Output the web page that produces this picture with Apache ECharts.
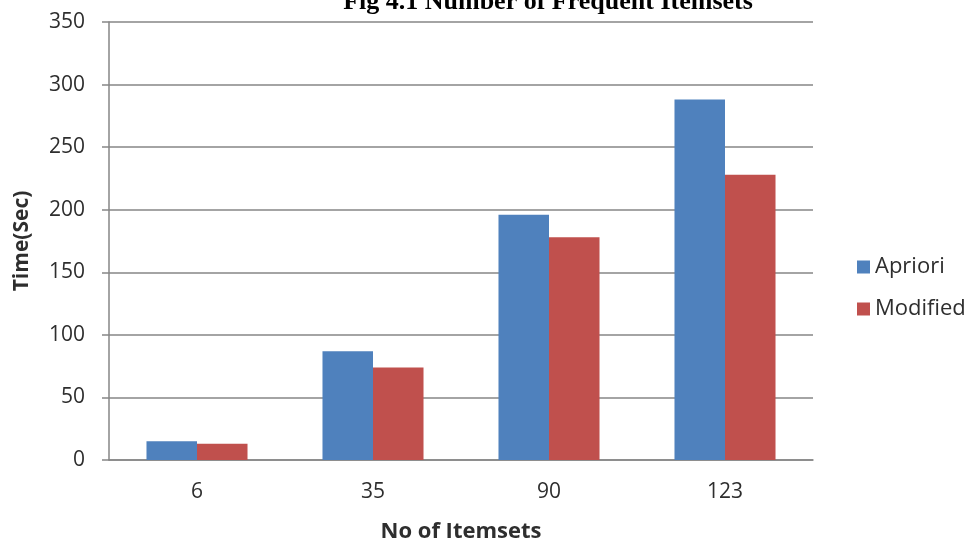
<!DOCTYPE html>
<html>
<head>
<meta charset="utf-8">
<script src="https://cdn.jsdelivr.net/npm/echarts@6/dist/echarts.min.js"></script>
<style>
html,body{margin:0;padding:0;background:#fff;}
#chart{width:972px;height:546px;}
</style>
</head>
<body>
<div id="chart"></div>
<script>
const titleText = 'Fig 4.1 Number of Frequent Itemsets';
const categories = ['6', '35', '90', '123'];
const apriori = [15, 87, 196, 288];
const modified = [13, 74, 178, 228];
const seriesNames = ['Apriori', 'Modified'];
const yAxisName = 'Time(Sec)';
const xAxisName = 'No of Itemsets';

const chart = echarts.init(document.getElementById('chart'));
const font = '"Open Sans", sans-serif';
const textColor = '#2e2e2e';
chart.setOption({
  animation: false,
  backgroundColor: '#ffffff',
  title: {
    text: titleText,
    left: 543,
    textAlign: 'center',
    top: -16,
    textStyle: { fontFamily: '"Liberation Serif", "Times New Roman", serif', fontWeight: 'bold', fontSize: 26, color: '#000' }
  },
  legend: {
    orient: 'vertical',
    left: 852,
    top: 251,
    itemWidth: 13,
    itemHeight: 13,
    itemGap: 20,
    icon: 'rect',
    data: seriesNames,
    textStyle: { fontFamily: font, fontSize: 22, color: textColor }
  },
  grid: { left: 109, right: 159, top: 22, bottom: 86, outerBoundsMode: 'none', containLabel: false },
  xAxis: {
    type: 'category',
    data: categories,
    name: xAxisName,
    nameLocation: 'middle',
    nameGap: 61,
    nameTextStyle: { fontFamily: font, fontWeight: 'bold', fontSize: 22, color: textColor },
    axisLine: { lineStyle: { color: '#868686', width: 1.5 } },
    axisTick: { length: 8, lineStyle: { color: '#868686', width: 1.5 } },
    axisLabel: { margin: 22, fontFamily: font, fontSize: 21, color: textColor }
  },
  yAxis: {
    type: 'value',
    min: 0, max: 350, interval: 50,
    name: yAxisName,
    nameLocation: 'middle',
    nameGap: 76,
    nameTextStyle: { fontFamily: font, fontWeight: 'bold', fontSize: 21, color: textColor },
    axisLine: { show: true, lineStyle: { color: '#868686', width: 1.5 } },
    axisTick: { show: true, length: 7, lineStyle: { color: '#868686', width: 1.5 } },
    axisLabel: { margin: 24, fontFamily: font, fontSize: 21, color: textColor },
    splitLine: { lineStyle: { color: '#868686', width: 1.5 } }
  },
  series: [
    { name: seriesNames[0], type: 'bar', data: apriori, barGap: '0%', barCategoryGap: '42.6%', itemStyle: { color: '#4F81BD' } },
    { name: seriesNames[1], type: 'bar', data: modified, itemStyle: { color: '#C0504D' } }
  ]
});
</script>
</body>
</html>
